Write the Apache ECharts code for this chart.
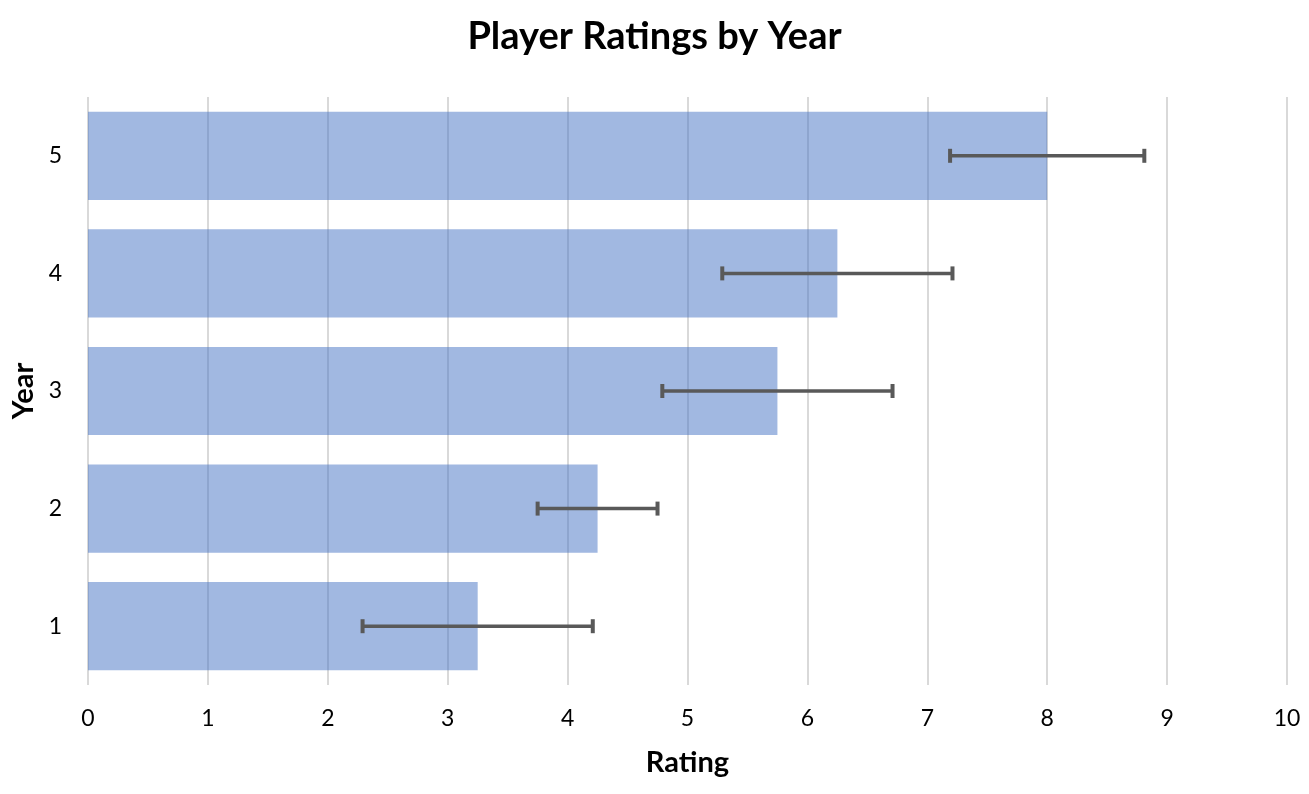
<!DOCTYPE html>
<html>
<head>
<meta charset="utf-8">
<script src="https://cdn.jsdelivr.net/npm/echarts@6/dist/echarts.min.js"></script>
<style>
  html, body { margin: 0; padding: 0; background: #fff; }
  #chart { width: 1309px; height: 794px; }
</style>
</head>
<body>
<div id="chart"></div>
<script>
// chart data
const years = ["1", "2", "3", "4", "5"];
const ratings = [3.25, 4.25, 5.75, 6.25, 8.0];
const errors = [0.96, 0.5, 0.96, 0.96, 0.81];
const xTicks = [0, 1, 2, 3, 4, 5, 6, 7, 8, 9, 10];

const font = "Lato, 'Open Sans', sans-serif";
const barColor = "rgba(68, 114, 196, 0.5)";
const errColor = "#595959";

const chart = echarts.init(document.getElementById("chart"));

// error bar data: [categoryIndex, low, high]
const errData = ratings.map((v, i) => [i, v - errors[i], v + errors[i]]);

const renderError = (params, api) => {
  const cat = api.value(0);
  const lo = api.coord([api.value(1), cat]);
  const hi = api.coord([api.value(2), cat]);
  const cap = 7;
  const style = {stroke: errColor, lineWidth: 3.5};
  return {
    type: "group",
    children: [
      {type: "line", shape: {x1: lo[0], y1: lo[1], x2: hi[0], y2: hi[1]}, style},
      {type: "line", shape: {x1: lo[0], y1: lo[1] - cap, x2: lo[0], y2: lo[1] + cap}, style: {stroke: errColor, lineWidth: 4}},
      {type: "line", shape: {x1: hi[0], y1: hi[1] - cap, x2: hi[0], y2: hi[1] + cap}, style: {stroke: errColor, lineWidth: 4}},
    ],
  };
};

const option = {
  animation: false,
  backgroundColor: "#fff",
  title: {
    text: "Player Ratings by Year",
    left: "center",
    top: 13,
    textStyle: {fontFamily: font, fontSize: 38, fontWeight: "bold", color: "#000"},
  },
  grid: {left: 88, right: 22, top: 97, bottom: 109, containLabel: false},
  xAxis: {
    type: "value",
    min: xTicks[0],
    max: xTicks[xTicks.length - 1],
    interval: 1,
    name: "Rating",
    nameLocation: "middle",
    nameGap: 63,
    nameTextStyle: {fontFamily: font, fontSize: 29, fontWeight: "bold", color: "#000"},
    axisLine: {show: false},
    axisTick: {show: false},
    axisLabel: {fontFamily: font, fontSize: 23, color: "#000", margin: 22},
    splitLine: {show: true, lineStyle: {color: "#d9d9d9", width: 2}},
  },
  yAxis: {
    type: "category",
    data: years,
    name: "Year",
    nameLocation: "middle",
    nameGap: 50,
    nameRotate: 90,
    nameTextStyle: {fontFamily: font, fontSize: 29, fontWeight: "bold", color: "#000"},
    axisLine: {show: false},
    axisTick: {show: false},
    axisLabel: {fontFamily: font, fontSize: 23, color: "#000", margin: 26},
    splitLine: {show: false},
  },
  series: [
    {
      name: "Rating",
      type: "bar",
      data: ratings,
      barCategoryGap: "25%",
      itemStyle: {color: barColor},
    },
    {
      name: "Error",
      type: "custom",
      data: errData,
      renderItem: renderError,
      encode: {x: [1, 2], y: 0},
      z: 10,
    },
  ],
};

chart.setOption(option);
</script>
</body>
</html>
